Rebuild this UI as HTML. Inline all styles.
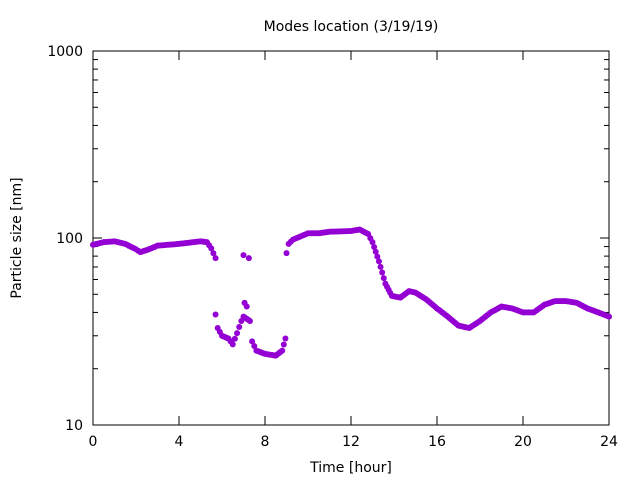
<!DOCTYPE html><html><head><style>body{margin:0;background:#fff;overflow:hidden}svg{font-family:"DejaVu Sans","Liberation Sans",sans-serif;display:block}</style></head><body>
<svg id="s" width="640" height="480" xmlns="http://www.w3.org/2000/svg">
<rect x="93" y="51" width="516" height="374" fill="none" stroke="#000" stroke-width="1"/>
<text x="351" y="31" font-size="14" text-anchor="middle">Modes location (3/19/19)</text>
<text x="351" y="472" font-size="14" text-anchor="middle">Time [hour]</text>
<text transform="translate(21,238) rotate(-90)" font-size="14" text-anchor="middle">Particle size [nm]</text>
<g id="ax" font-size="14"></g><g id="pts" fill="#9400d3"></g>
</svg>
<script>
const ax=document.getElementById('ax'),pts=document.getElementById('pts');let h='';
const X=t=>93+t*21.5,Y=v=>425-187*(Math.log10(v)-1);
for(let t=0;t<=24;t+=4){const x=X(t);h+=`<line x1="${x}" y1="425" x2="${x}" y2="416" stroke="#000"/><line x1="${x}" y1="51" x2="${x}" y2="60" stroke="#000"/><text x="${x}" y="446" text-anchor="middle">${t}</text>`;}
for(let d=1;d<=2;d++)for(let m=1;m<=10;m++){if(m==1&&d>1)continue;const v=Math.pow(10,d)*m/10*10;const y=Y(Math.pow(10,d)*m);const L=(m==1||m==10)?9:5;
h+=`<line x1="93" y1="${y}" x2="${93+L}" y2="${y}" stroke="#000"/><line x1="609" y1="${y}" x2="${609-L}" y2="${y}" stroke="#000"/>`;}
[[10,'10'],[100,'100'],[1000,'1000']].forEach(([v,s])=>h+=`<text x="83" y="${Y(v)+5}" text-anchor="end">${s}</text>`);
ax.innerHTML=h;
const segs=[
[[0,92],[0.5,95],[1,96],[1.5,93],[2,87],[2.2,84],[2.6,87],[3,91],[4,93],[5,96],[5.3,95],[5.5,88],[5.7,78]],
[[5.7,39],[5.8,33],[6,30],[6.3,29],[6.5,27],[6.7,31],[6.9,36],[7.0,38],[7.3,36]],
[[7.05,45],[7.15,43]],[[7.0,81],[7.25,78]],
[[7.4,28],[7.6,25],[8,24],[8.5,23.5],[8.8,25],[8.95,29]],
[[9,83],[9.1,93],[9.3,98],[10,106],[10.5,106],[11,108],[12,109],[12.4,111],[12.8,105],[13,95],[13.3,75],[13.6,57],[13.9,49],[14.3,48],[14.7,52],[15,51],[15.5,47],[16,42],[16.5,38],[17,34],[17.5,33],[18,36],[18.5,40],[19,43],[19.5,42],[20,40],[20.5,40],[21,44],[21.5,46],[22,46],[22.5,45],[23,42],[23.5,40],[24,38]]];
let p='';
segs.forEach(s=>{if(s.length==2&&s[1][0]-s[0][0]<0.3){s.forEach(([t,v])=>p+=`<circle cx="${X(t)}" cy="${Y(v)}" r="3"/>`);return;}
for(let i=0;i<s.length-1;i++){const[a,va]=s[i],[b,vb]=s[i+1];const n=Math.max(1,Math.round((b-a)/0.0833));
for(let k=0;k<n;k++){const f=k/n,t=a+(b-a)*f,v=Math.exp(Math.log(va)+(Math.log(vb)-Math.log(va))*f);p+=`<circle cx="${X(t)}" cy="${Y(v)}" r="3"/>`;}}
const l=s[s.length-1];p+=`<circle cx="${X(l[0])}" cy="${Y(l[1])}" r="3"/>`;});
pts.innerHTML=p;
</script></body></html>
